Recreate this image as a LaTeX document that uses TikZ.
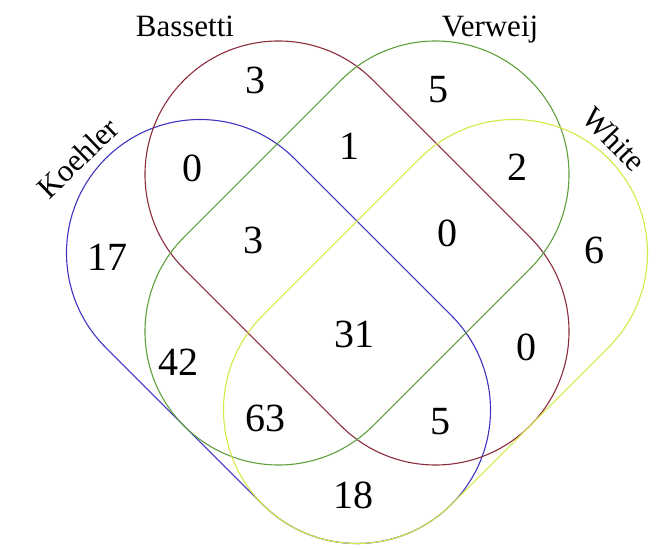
\documentclass[tikz,border=0pt]{standalone}
\usepackage{fontspec}
\setmainfont{Liberation Serif}
\definecolor{kcol}{RGB}{62,52,190}
\definecolor{bcol}{RGB}{140,45,60}
\definecolor{vcol}{RGB}{95,160,60}
\definecolor{wcol}{RGB}{215,232,70}
\begin{document}
\begin{tikzpicture}[x=1pt,y=1pt,
  setline/.style={line width=1.1pt},
  num/.style={font=\fontsize{40}{42}\selectfont, inner sep=0pt},
  lab/.style={font=\fontsize{31}{33}\selectfont, inner sep=0pt}]
\useasboundingbox (0,0) rectangle (662,549);
% Koehler (blue)
\draw[setline, kcol] (200,296) ++(45:133.5) -- ++(157,-157)
  arc[start angle=45, end angle=-135, radius=133.5pt] -- ++(-157,157)
  arc[start angle=225, end angle=45, radius=133.5pt] -- cycle;
% Bassetti (red)
\draw[setline, bcol] (278.5,374.5) ++(45:133.5) -- ++(157,-157)
  arc[start angle=45, end angle=-135, radius=133.5pt] -- ++(-157,157)
  arc[start angle=225, end angle=45, radius=133.5pt] -- cycle;
% Verweij (green)
\draw[setline, vcol] (435.5,374.5) ++(-45:133.5) -- ++(-157,-157)
  arc[start angle=-45, end angle=-225, radius=133.5pt] -- ++(157,157)
  arc[start angle=135, end angle=-45, radius=133.5pt] -- cycle;
% White (yellow)
\draw[setline, wcol] (514,296) ++(-45:133.5) -- ++(-157,-157)
  arc[start angle=-45, end angle=-225, radius=133.5pt] -- ++(157,157)
  arc[start angle=135, end angle=-45, radius=133.5pt] -- cycle;
% set labels
\node[lab, anchor=base] (lb) at (185,512) {Bassetti};
\node[lab, anchor=base] (lv) at (490,512) {Verweij};
\node[lab, rotate=44] (lk) at (78,391) {Koehler};
\node[lab, rotate=-46] (lw) at (614,410) {White};
% counts
\node[num] (n1) at (255,469) {3};
\node[num] (n2) at (438,459) {5};
\node[num] (n3) at (349,403) {1};
\node[num] (n4) at (192,381) {0};
\node[num] (n5) at (517,382) {2};
\node[num] (n6) at (107,292) {17};
\node[num] (n7) at (594,299) {6};
\node[num] (n8) at (253,309) {3};
\node[num] (n9) at (447,316) {0};
\node[num] (n10) at (354,215) {31};
\node[num] (n11) at (178,187) {42};
\node[num] (n12) at (526,202) {0};
\node[num] (n13) at (265,131) {63};
\node[num] (n14) at (440,127) {5};
\node[num] (n15) at (353,54) {18};
\end{tikzpicture}
\end{document}
